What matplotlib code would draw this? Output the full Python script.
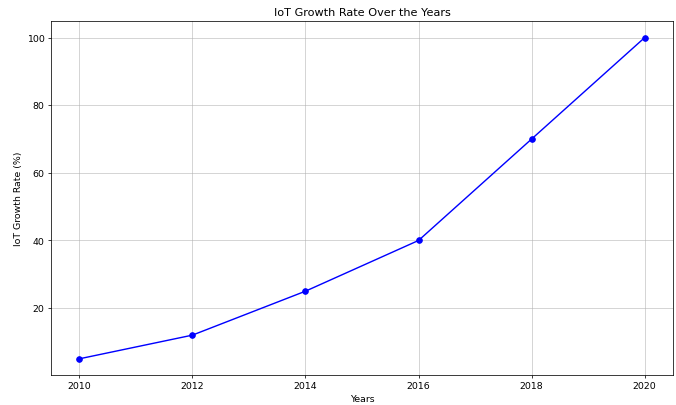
import matplotlib.pyplot as plt

years = [2010, 2012, 2014, 2016, 2018, 2020]
growth = [5, 12, 25, 40, 70, 100]

fig = plt.figure(figsize=(10, 6), dpi=67.6)
ax = fig.add_axes([51/676, 1-374/404, (673-51)/676, (374-22)/404])
ax.plot(years, growth, marker='o', color='blue', linestyle='-', markersize=6)
ax.set_title('IoT Growth Rate Over the Years')
ax.set_xlabel('Years')
ax.set_ylabel('IoT Growth Rate (%)')
ax.grid(True, color='#b0b0b0', alpha=0.7)
fig.savefig('out.png', dpi=67.6)
